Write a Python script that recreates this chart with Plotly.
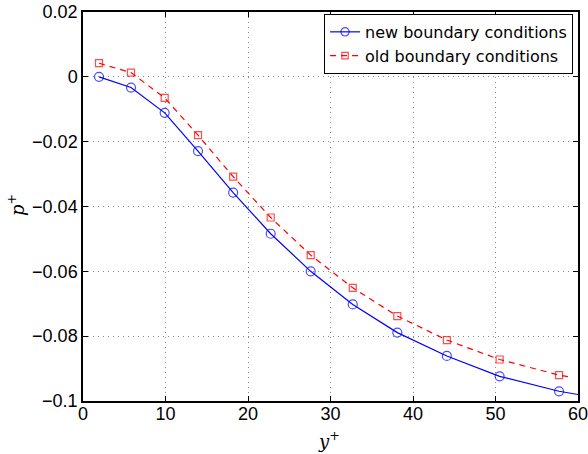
import plotly.graph_objects as go

# Data
y_plus = [1.94, 5.82, 9.9, 13.94, 18.2, 22.75, 27.6, 32.7, 38.1, 44.1, 50.5, 57.7]
p_new = [0.0, -0.0033, -0.0111, -0.0229, -0.0357, -0.0484, -0.0600, -0.0702, -0.0789, -0.0861, -0.0924, -0.0970]
p_old = [0.0042, 0.0013, -0.0065, -0.0180, -0.0308, -0.0434, -0.0550, -0.0651, -0.0738, -0.0812, -0.0872, -0.0920]
# line continuation past the last marker
end_new = (60.0, -0.0980)
end_old = (59.0, -0.0926)

xticks = [0, 10, 20, 30, 40, 50, 60]
yticks = [0.02, 0, -0.02, -0.04, -0.06, -0.08, -0.1]
yticktext = ["0.02", "0", "\u22120.02", "\u22120.04", "\u22120.06", "\u22120.08", "\u22120.1"]

fig = go.Figure()
fig.add_trace(go.Scatter(
    x=y_plus + [end_new[0]], y=p_new + [end_new[1]],
    mode="lines+markers", name="new boundary conditions",
    line=dict(color="#0000ff", width=1.2),
    marker=dict(symbol="circle-open", size=[9] * len(y_plus) + [0], color="#0000ff",
                line=dict(width=1.2)),
))
fig.add_trace(go.Scatter(
    x=y_plus + [end_old[0]], y=p_old + [end_old[1]],
    mode="lines+markers", name="old boundary conditions",
    line=dict(color="#ff0000", width=1.2, dash="6px,5px"),
    marker=dict(symbol="square-open", size=[7] * len(y_plus) + [0], color="#ff0000",
                line=dict(width=1.2)),
))

axis_common = dict(
    showline=True, linecolor="black", linewidth=1.5, mirror="allticks",
    ticks="inside", ticklen=5, tickcolor="black",
    showgrid=True, gridcolor="#888888", griddash="1px,4px", gridwidth=1,
    zeroline=False, automargin=False, ticklabeloverflow="allow",
    tickfont=dict(family="Liberation Sans, Arial, sans-serif", size=18, color="black"),
)

fig.update_layout(
    width=588, height=454,
    margin=dict(l=83, r=10, t=12, b=53),
    plot_bgcolor="white", paper_bgcolor="white",
    showlegend=True,
    legend=dict(
        x=0.99, y=0.995, xanchor="right", yanchor="top",
        bordercolor="black", borderwidth=1, bgcolor="white",
        font=dict(family="DejaVu Sans, Liberation Sans, sans-serif", size=16, color="black"),
        tracegroupgap=0, itemwidth=30,
    ),
    xaxis=dict(range=[0, 60], tickvals=xticks, ticklabelstandoff=-4, **axis_common),
    yaxis=dict(range=[-0.1, 0.02], tickvals=yticks, ticktext=yticktext, **axis_common),
    annotations=[
        dict(text="<i>y</i><sup>+</sup>", xref="paper", yref="paper", x=0.497, y=-0.1,
             xanchor="center", yanchor="middle", showarrow=False,
             font=dict(family="DejaVu Serif, Liberation Serif, serif", size=18, color="black")),
        dict(text="<i>p</i><sup>+</sup>", xref="paper", yref="paper", x=-0.135, y=0.504,
             xanchor="center", yanchor="middle", showarrow=False, textangle=-90,
             font=dict(family="DejaVu Serif, Liberation Serif, serif", size=18, color="black")),
    ],
)

fig.write_html(
    "out.html",
    config={"displayModeBar": False},
    post_script="document.body.style.margin='0';document.body.style.overflow='hidden';",
)
